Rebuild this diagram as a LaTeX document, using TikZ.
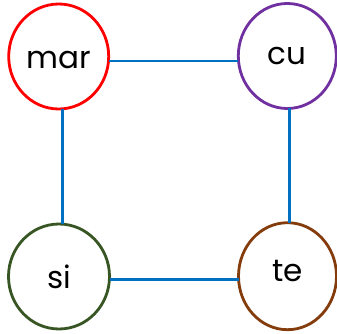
\documentclass[tikz,border=0pt]{standalone}
\usepackage{fontspec}
\setmainfont{Poppins}
\usetikzlibrary{shapes.geometric}
\definecolor{cred}{HTML}{FF0000}
\definecolor{cpurple}{HTML}{7030A0}
\definecolor{cgreen}{HTML}{375623}
\definecolor{cbrown}{HTML}{843C0C}
\definecolor{cblue}{HTML}{0070C0}
\begin{document}
\begin{tikzpicture}[x=1pt,y=-1pt,
  bub/.style={ellipse,draw,line width=2.8pt,inner sep=0pt,outer sep=0pt,minimum width=100pt,minimum height=105pt},
  word/.style={font=\fontsize{31}{31}\selectfont,text=black},
  link/.style={draw=cblue,line width=2.8pt}]
\path[use as bounding box,fill=white] (0,0) rectangle (337,334);
\node[bub,draw=cred,label={[word,yshift=-3.5pt]center:mar}] (mar) at (58.7,56.5) {};
\node[bub,draw=cpurple,minimum width=98pt,label={[word]center:cu}] (cu) at (287.3,56) {};
\node[bub,draw=cgreen,minimum width=101pt,label={[word,yshift=-0.5pt]center:si}] (si) at (59,276.5) {};
\node[bub,draw=cbrown,minimum width=98pt,minimum height=107pt,label={[word,yshift=5pt]center:te}] (te) at (287.5,276.2) {};
\coordinate (a) at ([yshift=-4.5pt]mar.east);
\draw[link] (a) -- (a -| cu.west);
\coordinate (b) at ([xshift=4pt]mar.south);
\draw[link] (b) -- (b |- si.north);
\coordinate (c) at ([xshift=2pt]cu.south);
\draw[link] (c) -- (c |- te.north);
\coordinate (d) at ([yshift=-2.8pt]si.east);
\draw[link] (d) -- (d -| te.west);
\end{tikzpicture}
\end{document}
